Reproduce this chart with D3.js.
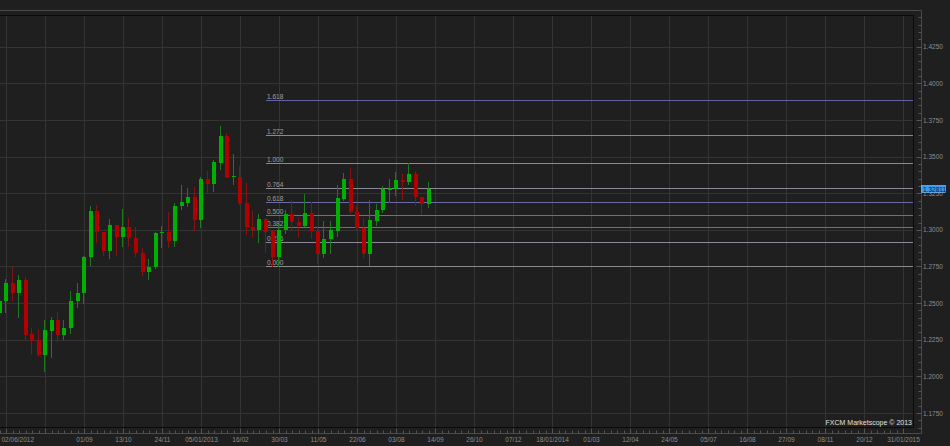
<!DOCTYPE html>
<html><head><meta charset="utf-8">
<script src="https://cdn.jsdelivr.net/npm/d3@7"></script>
<style>
html,body{margin:0;padding:0;background:#1f1f1f;overflow:hidden;}
svg{display:block;}
text{font-family:"Liberation Sans",Arial,sans-serif;}
</style></head><body>
<svg id="c" width="950" height="446"></svg>
<script>
// ---------- data (weekly EUR/USD style candles) ----------
const firstWeek = "2012-06-02";
const lastWeek  = "2013-09-14";
const opens  = [1.2432,1.2514,1.2635,1.2567,1.2656,1.2287,1.2246,1.2146,1.2311,1.2385,1.2282,1.2330,1.2511,1.2567,1.2817,1.3131,1.2982,1.2856,1.3033,1.2953,1.3021,1.2941,1.2840,1.2714,1.2744,1.2979,1.2986,1.2926,1.3161,1.3183,1.3222,1.3067,1.3345,1.3311,1.3458,1.3641,1.3361,1.3363,1.3186,1.3021,1.2999,1.3074,1.2992,1.2815,1.2999,1.3108,1.3056,1.3029,1.3115,1.2992,1.2837,1.2938,1.2992,1.3213,1.3347,1.3122,1.3015,1.2832,1.3062,1.3135,1.3272,1.3279,1.3340,1.3324,1.3379,1.3224,1.3175];
const highs  = [1.2535,1.2665,1.2746,1.2692,1.2676,1.2332,1.2323,1.2385,1.2407,1.2441,1.2385,1.2586,1.2635,1.2821,1.3165,1.3170,1.2986,1.3072,1.3036,1.3140,1.3079,1.3021,1.2874,1.2799,1.2987,1.3026,1.3124,1.3181,1.3306,1.3283,1.3290,1.3363,1.3402,1.3477,1.3709,1.3659,1.3516,1.3438,1.3318,1.3132,1.3108,1.3078,1.2999,1.3040,1.3135,1.3204,1.3090,1.3245,1.3192,1.3026,1.3062,1.3062,1.3306,1.3390,1.3422,1.3163,1.3081,1.3204,1.3176,1.3299,1.3347,1.3397,1.3381,1.3454,1.3404,1.3226,1.3326];
const lows   = [1.2412,1.2441,1.2521,1.2407,1.2255,1.2162,1.2142,1.2040,1.2134,1.2241,1.2258,1.2298,1.2471,1.2503,1.2758,1.2919,1.2828,1.2806,1.2828,1.2890,1.2890,1.2821,1.2692,1.2662,1.2739,1.2881,1.2881,1.2890,1.3144,1.3165,1.2999,1.3021,1.3260,1.3265,1.3415,1.3360,1.3311,1.3175,1.2970,1.2956,1.2917,1.2846,1.2755,1.2755,1.2979,1.3006,1.2958,1.3027,1.2945,1.2775,1.2817,1.2842,1.2958,1.3204,1.3117,1.3006,1.2815,1.2759,1.3033,1.3124,1.3192,1.3238,1.3213,1.3313,1.3170,1.3108,1.3159];
const closes = [1.2514,1.2635,1.2567,1.2656,1.2282,1.2241,1.2146,1.2316,1.2385,1.2282,1.2330,1.2511,1.2567,1.2817,1.3131,1.2982,1.2856,1.3033,1.2953,1.3021,1.2941,1.2840,1.2714,1.2746,1.2981,1.2986,1.2926,1.3163,1.3188,1.3222,1.3067,1.3345,1.3311,1.3461,1.3641,1.3363,1.3365,1.3186,1.3021,1.3000,1.3074,1.2987,1.2815,1.2999,1.3108,1.3054,1.3029,1.3115,1.2992,1.2837,1.2938,1.2999,1.3217,1.3347,1.3122,1.3013,1.2832,1.3067,1.3135,1.3279,1.3288,1.3340,1.3324,1.3381,1.3222,1.3175,1.32811];

// Fibonacci retracement
const fibStart = "2013-03-16";
const fibLow = 1.2755, fibHigh = 1.3454;
const fibRatios = [0, 0.236, 0.382, 0.5, 0.618, 0.764, 1, 1.272, 1.618];
const fibLabels = ["0.000","0.236","0.382","0.500","0.618","0.764","1.000","1.272","1.618"];
const fibColors = ["#8a8a8a","#8a8a9c","#6a6aa6","#6a6aa6","#6a6aa6","#8a8a96","#8a889e","#8a8a8a","#6262a6"];

// axes
const yTickVals = [1.175,1.200,1.225,1.250,1.275,1.300,1.325,1.350,1.375,1.400,1.425];
const xTickDates = ["2012-06-02","2012-09-01","2012-10-13","2012-11-24","2013-01-05","2013-02-16","2013-03-30","2013-05-11","2013-06-22","2013-08-03","2013-09-14","2013-10-26","2013-12-07","2014-01-18","2014-03-01","2014-04-12","2014-05-24","2014-07-05","2014-08-16","2014-09-27","2014-11-08","2014-12-20","2015-01-31"];
const xTickLabels = ["02/06/2012","01/09","13/10","24/11","05/01/2013","16/02","30/03","11/05","22/06","03/08","14/09","26/10","07/12","18/01/2014","01/03","12/04","24/05","05/07","16/08","27/09","08/11","20/12","31/01/2015"];
const xGridDates = ["2012-06-09","2012-07-21"].concat(xTickDates.slice(1));
const lastPrice = 1.32811;

// ---------- drawing ----------
const parse = d3.utcParse("%Y-%m-%d");
const svg = d3.select("#c");
const P = {l:0, t:15, r:913, b:427};
const AX = 921, AY = 433;

const x = d3.scaleUtc().domain([parse("2012-06-02"), parse("2015-01-31")]).range([-0.5, 903]);
const y = d3.scaleLinear().domain([1.175, 1.425]).range([413, 46.7]);
const cy = v => Math.round(y(v)) + 0.5;
const cx = d => Math.round(x(d)) + 0.5;

svg.append("rect").attr("width",950).attr("height",446).attr("fill","#1f1f1f");

svg.append("defs").append("clipPath").attr("id","plot")
  .append("rect").attr("x",P.l).attr("y",P.t).attr("width",P.r-P.l).attr("height",P.b-P.t);

const plot = svg.append("g").attr("clip-path","url(#plot)");

// grid
plot.selectAll(".hg").data(yTickVals).join("line")
  .attr("x1",P.l).attr("x2",P.r).attr("y1",d=>cy(d)).attr("y2",d=>cy(d))
  .attr("stroke","#343434").attr("stroke-width",1);
plot.selectAll(".vg").data(xGridDates.map(parse)).join("line")
  .attr("x1",d=>cx(d)).attr("x2",d=>cx(d)).attr("y1",P.t).attr("y2",P.b)
  .attr("stroke","#343434").attr("stroke-width",1);

// fib
const fx0 = Math.round(x(parse(fibStart)));
const fibG = plot.append("g");
fibRatios.forEach((r,i)=>{
  const v = fibLow + r*(fibHigh-fibLow);
  fibG.append("line").attr("x1",fx0).attr("x2",P.r).attr("y1",cy(v)).attr("y2",cy(v))
    .attr("stroke",fibColors[i]).attr("stroke-width",1);
  fibG.append("text").attr("x",fx0+1).attr("y",cy(v)-2).text(fibLabels[i])
    .attr("font-size","6.5px").attr("fill","#a0a0a0");
});

// candles
const weeks = d3.utcSaturday.range(parse(firstWeek), d3.utcDay.offset(parse(lastWeek),1));
const candles = weeks.map((d,i)=>({d, o:opens[i], h:highs[i], l:lows[i], c:closes[i]}));
const cg = plot.append("g");
candles.forEach(k=>{
  const up = k.c >= k.o;
  const xc = x(k.d);
  const x0 = Math.round(xc - 2);
  cg.append("line").attr("x1",x0+1.5).attr("x2",x0+1.5)
    .attr("y1",Math.round(y(k.h))).attr("y2",Math.round(y(k.l))+1)
    .attr("stroke", up ? "#1f7a1f" : "#861212").attr("stroke-width",1);
  const yt = Math.round(y(Math.max(k.o,k.c)));
  const yb = Math.round(y(Math.min(k.o,k.c)));
  cg.append("rect").attr("x",x0).attr("y",yt).attr("width",4).attr("height",Math.max(1,yb-yt))
    .attr("fill", up ? "#00b000" : "#b00000");
});

// inner black frame
svg.append("path").attr("d",`M${P.l},${P.t+0.5}H${P.r+0.5}V${P.b+0.5}H${P.l}`)
  .attr("fill","none").attr("stroke","#0a0a0a").attr("stroke-width",1);

// outer axis frame
svg.append("path").attr("d",`M0,10.5H${AX+0.5}V${AY+0.5}H0`)
  .attr("fill","none").attr("stroke","#4a4a4a").attr("stroke-width",1);

// y ticks (pointing inward)
const minorY = d3.range(1.150, 1.4601, 0.005).filter(v=>y(v)>11 && y(v)<432);
const yMinor = d3.axisLeft(y).tickValues(minorY).tickSize(3).tickFormat("");
const gy1 = svg.append("g").attr("transform",`translate(${AX+0.5},0.5)`).call(yMinor);
const yMajor = d3.axisLeft(y).tickValues(yTickVals).tickSize(5).tickFormat("");
const gy2 = svg.append("g").attr("transform",`translate(${AX+0.5},0.5)`).call(yMajor);
[gy1,gy2].forEach(g=>{g.select(".domain").remove(); g.selectAll("line").attr("stroke","#555");});
gy1.selectAll(".tick").attr("transform",d=>`translate(0,${Math.round(y(d))})`);
gy2.selectAll(".tick").attr("transform",d=>`translate(0,${Math.round(y(d))})`);

// y labels
const yLab = d3.axisRight(y).tickValues(yTickVals).tickSize(0).tickPadding(2).tickFormat(d3.format(".4f"));
const gyl = svg.append("g").attr("transform",`translate(${AX},0)`).call(yLab);
gyl.select(".domain").remove();
gyl.selectAll("text").attr("font-size","6.5px").attr("fill","#8c8c8c").attr("font-family","Liberation Sans, Arial, sans-serif");

// x ticks (pointing up)
const weekTicks = d3.utcSaturday.range(parse("2012-06-02"), parse("2015-02-07"));
const xMinor = d3.axisTop(x).tickValues(weekTicks).tickSize(3).tickFormat("");
const gx1 = svg.append("g").attr("transform",`translate(0.5,${AY+0.5})`).call(xMinor);
const xMajor = d3.axisTop(x).tickValues(xGridDates.map(parse)).tickSize(5).tickFormat("");
const gx2 = svg.append("g").attr("transform",`translate(0.5,${AY+0.5})`).call(xMajor);
[gx1,gx2].forEach(g=>{g.select(".domain").remove(); g.selectAll("line").attr("stroke","#555");
  g.selectAll(".tick").attr("transform",d=>`translate(${Math.round(x(d))},0)`);});

// x labels
const xLab = d3.axisBottom(x).tickValues(xTickDates.map(parse)).tickSize(0).tickPadding(4)
  .tickFormat((d,i)=>xTickLabels[i]);
const gxl = svg.append("g").attr("transform",`translate(0,${AY})`).call(xLab);
gxl.select(".domain").remove();
gxl.selectAll("text").attr("font-size","6.5px").attr("fill","#8c8c8c").attr("font-family","Liberation Sans, Arial, sans-serif")
  .attr("text-anchor",(d,i)=> i===0 ? "start" : "middle");
gxl.selectAll(".tick").filter((d,i)=>i===0).select("text").attr("x", 1 - x(parse(xTickDates[0])));

// last price box
const ly = Math.round(y(lastPrice));
svg.append("rect").attr("x",AX+0.5).attr("y",ly-3.5).attr("width",24).attr("height",7)
  .attr("fill","#3a9af2").attr("stroke","#8cc8ff").attr("stroke-width",0.6);
svg.append("text").attr("x",AX+2).attr("y",ly+0.5).attr("dominant-baseline","central")
  .attr("font-size","6.5px").attr("fill","#07163a").text(d3.format(".5f")(lastPrice));

// watermark
svg.append("text").attr("x",P.r-1).attr("y",425).attr("text-anchor","end")
  .attr("font-size","7px").attr("fill","#e0e0e0").text("FXCM Marketscope © 2013");
</script>
</body></html>
